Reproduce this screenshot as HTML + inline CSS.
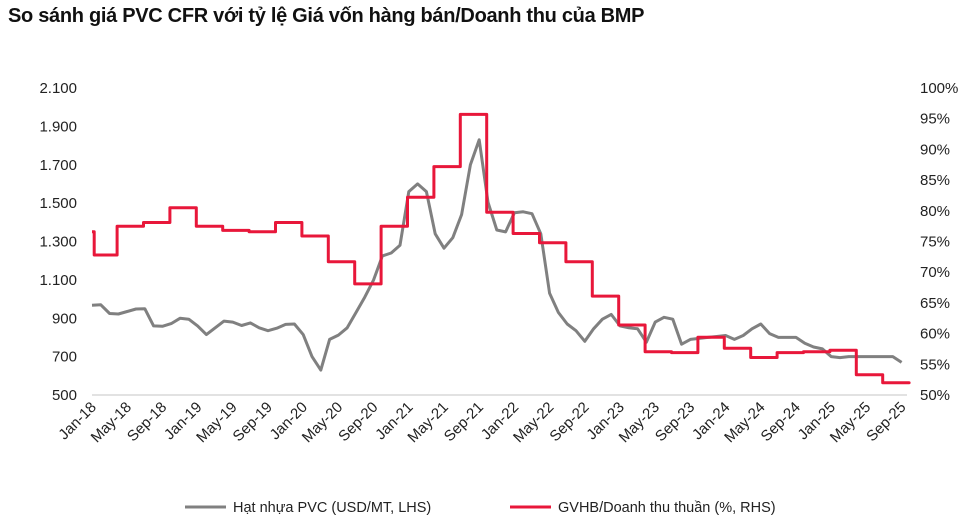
<!DOCTYPE html>
<html><head><meta charset="utf-8">
<style>
body{margin:0;background:#fff;width:972px;height:524px;overflow:hidden;font-family:"Liberation Sans",sans-serif;}
#title{position:absolute;left:8px;top:5px;font-size:20px;font-weight:bold;color:#111;letter-spacing:-0.3px;}
svg{position:absolute;left:0;top:0;}
</style></head>
<body>
<div id="title">So sánh giá PVC CFR với tỷ lệ Giá vốn hàng bán/Doanh thu của BMP</div>
<svg id="chart" width="972" height="524"></svg>
<script>
const monthLabels=["Jan-18","May-18","Sep-18","Jan-19","May-19","Sep-19","Jan-20","May-20","Sep-20","Jan-21","May-21","Sep-21","Jan-22","May-22","Sep-22","Jan-23","May-23","Sep-23","Jan-24","May-24","Sep-24","Jan-25","May-25","Sep-25"];
const leftTicks=[500,700,900,1100,1300,1500,1700,1900,2100];
const leftTickLabels=["500","700","900","1.100","1.300","1.500","1.700","1.900","2.100"];
const rightTicks=[50,55,60,65,70,75,80,85,90,95,100];
const rightTickLabels=["50%","55%","60%","65%","70%","75%","80%","85%","90%","95%","100%"];
// monthly PVC price, Jan-18 .. Sep-25 (+Oct-25 partial)
const pvcPrice=[968,970,925,922,935,948,950,860,858,872,900,895,860,815,850,885,880,862,876,850,835,848,868,870,815,700,630,790,812,850,930,1010,1100,1225,1240,1280,1560,1600,1560,1340,1265,1320,1440,1700,1830,1505,1360,1350,1450,1455,1445,1340,1030,930,870,835,780,845,895,920,860,850,845,775,880,905,895,765,790,795,800,805,810,790,810,845,870,820,800,800,800,770,750,740,700,695,700,700,700,700,700,700,670];
// quarterly COGS/Revenue (%), first entry = Q4-17
const cogsRatio=[76.6,72.8,77.5,78.1,80.5,77.5,76.8,76.6,78.1,75.9,71.7,68.1,77.5,82.2,87.2,95.7,79.75,76.3,74.8,71.7,66.1,61.4,57.05,56.9,59.4,57.6,56.1,56.9,57.05,57.3,53.3,52.0,52.0];

const NS="http://www.w3.org/2000/svg";
const svg=document.getElementById('chart');
const X0=92,PX=8.8,XEND=907;
const xs=m=>X0+m*PX;
const yL=v=>395-(v-500)*(307/1600);
const yR=v=>395-(v-50)*(307/50);
function mk(t,a){const e=document.createElementNS(NS,t);for(const k in a)e.setAttribute(k,a[k]);svg.appendChild(e);return e;}

let base=mk('line',{x1:X0,x2:XEND,y1:395,y2:395,stroke:'#d9d9d9','stroke-width':1.5});



leftTicks.forEach((v,i)=>{const t=mk('text',{x:77,y:yL(v)+5,'text-anchor':'end','font-size':15,fill:'#222'});t.textContent=leftTickLabels[i];

});
rightTicks.forEach((v,i)=>{const t=mk('text',{x:920,y:yR(v)+5,'text-anchor':'start','font-size':15,fill:'#222'});t.textContent=rightTickLabels[i];

});
monthLabels.forEach((l,i)=>{const x=xs(i*4);const t=mk('text',{x:x+5,y:408,'text-anchor':'end','font-size':15,fill:'#222',transform:`rotate(-45 ${x+5} 408)`});t.textContent=l;

});

// PVC line
let d=pvcPrice.map((v,i)=>(i?'L':'M')+Math.min(xs(i),XEND).toFixed(1)+','+yL(v).toFixed(1)).join(' ');
let pl=mk('path',{d:d,fill:'none',stroke:'#808080','stroke-width':3,'stroke-linejoin':'round'});



// COGS step line
let sd='';
cogsRatio.forEach((v,k)=>{
  const s=k===0?0:(k===1?0.25:3*(k-1)-0.15);
  const e=k===0?0.25:Math.min((3*k-0.15),(XEND-X0)/PX);
  sd+=(k?'L':'M')+xs(s).toFixed(1)+','+yR(v).toFixed(1)+' L'+xs(e).toFixed(1)+','+yR(v).toFixed(1)+' ';
});
let rl=mk('path',{d:sd,fill:'none',stroke:'#e8173a','stroke-width':3,'stroke-linejoin':'round'});



// legend
let l1=mk('line',{x1:185,x2:226,y1:507,y2:507,stroke:'#808080','stroke-width':3});


let t1=mk('text',{x:233,y:512,'font-size':14.5,fill:'#222'});t1.textContent='Hạt nhựa PVC (USD/MT, LHS)';


let l2=mk('line',{x1:510,x2:551,y1:507,y2:507,stroke:'#e8173a','stroke-width':3});


let t2=mk('text',{x:558,y:512,'font-size':14.5,fill:'#222'});t2.textContent='GVHB/Doanh thu thuần (%, RHS)';


</script>
</body></html>
